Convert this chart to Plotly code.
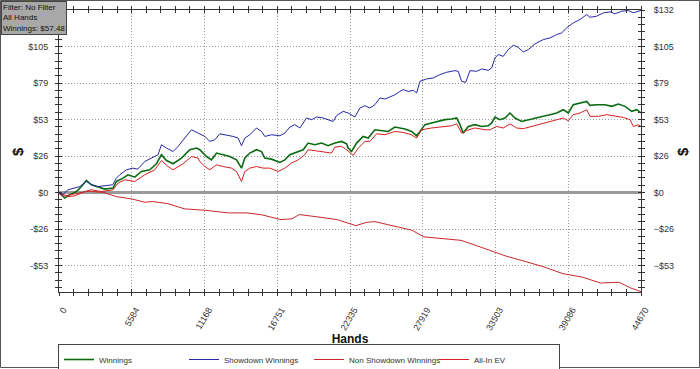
import plotly.graph_objects as go

# ---------------- data ----------------
sd_hands = [0, 300, 691, 1206, 1590, 2104, 2488, 2972, 3510, 4124, 4408, 4662, 5176, 5660, 6044, 6582, 7096, 7603, 7864, 8248,
            8755, 9139, 9654, 10168, 10675, 11190, 11574, 11958, 12342, 12856, 13363, 13747, 14008, 14262, 14646, 15160, 15544,
            15798, 16312, 16950, 17334, 17718, 18102, 18486, 19000, 19384, 19768, 20275, 20659, 21043, 21304, 21811, 22195,
            22710, 23094, 23478, 23862, 24246, 24630, 25014, 25398, 25782, 26166, 26419, 26803, 27187, 27448, 27702, 28216,
            28723, 29238, 29752, 30390, 30643, 30904, 31212, 31542, 32056, 32440, 32947, 33208, 33462, 33716, 34099, 34483,
            34867, 35251, 35635, 36019, 36534, 37171, 37686, 38200, 38584, 38968, 39475, 39990, 40504, 40758, 41272, 41779,
            42294, 42678, 43192, 43699, 44083, 44670]
sd_vals = [0, -1.5, 2, 3.2, 4.3, 8, 5.6, 4.3, 4.8, 5.6, 10.4, 12.8, 16.4, 17.6, 16.9, 22.4, 24.9, 27.3, 34.5, 32.1,
           29.6, 33.3, 39.3, 45.3, 42.9, 40.5, 36.9, 38.1, 42.4, 41.7, 40.5, 39.3, 33.8, 39.3, 41.7, 46.6, 44.1,
           40.5, 41.7, 41, 42.9, 47.3, 49, 46.6, 53.8, 52.6, 54.5, 53.8, 52.6, 51.3, 55.5, 58.6, 57.4,
           54.5, 61, 62.7, 61, 63.4, 68.3, 67.5, 69, 70.6, 73, 74.3, 73, 73.8, 71.9, 80.3, 82,
           82.7, 85.1, 86.8, 88, 87.5, 80.3, 79.5, 88, 87.5, 89.2, 88.2, 89.9, 97.2, 99.6, 98.3, 103.2,
           106.3, 104.8, 101.5, 103.2, 107.3, 110.4, 111.6, 114, 115.3, 118.9, 122.5, 124.9, 128.5, 126.5, 127.3, 129.7,
           130.4, 129, 130.9, 131.4, 129.7, 131.5]

w_hands = [0, 438, 822, 1336, 1720, 2104, 2488, 2995, 3510, 4147, 4408, 4915, 5299, 5814, 6328, 6966, 7480, 7864, 8248,
           8755, 9400, 10038, 10552, 10806, 11320, 11704, 12088, 12595, 13110, 13624, 14008, 14262, 14646, 15160, 15544,
           15798, 16312, 16950, 17334, 17718, 18232, 18739, 19123, 19638, 20152, 20659, 21174, 21688, 22072, 22195, 22456,
           22840, 23347, 23731, 24246, 24760, 25267, 25782, 26166, 26550, 27064, 27448, 27702, 28086, 28600, 29107, 29622,
           30136, 30520, 30774, 31027, 31411, 31926, 32440, 32947, 33208, 33462, 33846, 34230, 34614, 34998, 35512, 36019,
           36534, 37171, 37686, 38200, 38707, 39091, 39475, 39990, 40504, 40758, 41272, 41910, 42424, 42931, 43446, 43960,
           44344, 44670]
w_vals = [0, -4, -1.7, 0.7, 4.3, 8.7, 5.6, 3.9, 2.5, 3.2, 8, 10.4, 12.8, 11.1, 15.2, 16.4, 20.8, 27.3, 23.1,
          20.8, 24.9, 30.9, 32.1, 30.9, 26, 23.6, 28.5, 27.3, 26, 23.6, 17.6, 24.9, 28.5, 30.9, 29.6,
          24.9, 24.1, 21.7, 23.6, 27.3, 28.9, 30.9, 35.7, 34.5, 35.7, 33.8, 35.7, 36.9, 35.2, 32.1, 29.6,
          35.7, 40.5, 39.3, 45.3, 44.8, 44.1, 47.3, 46.6, 45.8, 44.1, 41, 44.1, 49, 50.2, 51.3, 52.6,
          53.1, 53.8, 49, 42.9, 47.7, 49, 47.7, 48.2, 50.2, 54.5, 52.6, 53.8, 57.4, 53.8, 51.3, 52.6,
          53.8, 55, 56.2, 57.4, 59.8, 57.4, 63.4, 64.6, 65.8, 62.9, 63.4, 63.4, 62.2, 63.9, 62.2, 58.6,
          59.8, 57.48]

ns_hands = [0, 100, 284, 2273, 3433, 4431, 5583, 6582, 7196, 8348, 9654, 11228, 12956, 14415, 15567, 17026, 17871,
            18447, 19868, 21327, 22786, 23631, 24246, 25705, 27087, 28009, 29161, 30850, 31465, 32924, 34345, 35766,
            37225, 38684, 40143, 41564, 42985, 43876, 44670]
ns_vals = [0, -1.5, -2.7, 1, 0, -3, -4.6, -7, -6.5, -8, -11.8, -12.8, -14.7, -14.7, -16.1, -19.5, -19,
           -15.9, -17.6, -19.5, -23.9, -21.5, -21, -23.9, -27.2, -32, -32.8, -34.5, -36.4, -41.2, -46, -49.7,
           -53.7, -58.6, -61, -65.3, -64.8, -68.9, -71.5]

ev_hands = [0, 691, 1206, 1974, 2488, 3256, 4147, 4531, 5046, 5814, 6582, 7350, 7864, 8371, 8755, 9523, 10168, 10675,
            10806, 11190, 11574, 12088, 12595, 13240, 13624, 14008, 14262, 14646, 15160, 15667, 16182, 16819, 17334,
            17848, 18355, 18870, 19123, 19638, 20275, 20920, 21174, 21688, 22072, 22326, 22579, 22963, 23478, 23862,
            24376, 25014, 25782, 26419, 27064, 27448, 27832, 28600, 29368, 30136, 30520, 30904, 31288, 31926, 32694,
            33078, 33592, 34099, 34614, 35128, 35635, 36280, 36918, 37555, 38200, 38707, 39091, 39475, 39990, 40504,
            40758, 41395, 42040, 42678, 43315, 43830, 44083, 44467, 44670]
ev_vals = [0, -2.9, -2.4, 0.7, 2, 0.7, 2, 6.8, 9.2, 8, 12.8, 16.4, 23.1, 18.8, 16.4, 20.8, 26, 24.9,
           22.4, 18.8, 16.4, 20, 18.8, 17.6, 15.2, 8, 15.2, 17.6, 18.8, 17.6, 17.6, 15.2, 17.6,
           21.3, 23.6, 27.3, 30.9, 30.2, 29.6, 28.5, 32.8, 33.3, 30.9, 28.5, 26.8, 32.1, 36.9, 36.9,
           42.4, 41.7, 44.1, 43.4, 41.7, 39.3, 45.3, 46.6, 47.3, 48.2, 49.7, 42.9, 44.8, 46.6, 45.3,
           45.3, 47.7, 46.6, 49.5, 46.6, 46.1, 47.7, 49.5, 50.9, 52.6, 53.8, 51.8, 56.2, 57.4, 59.8,
           55, 55, 56.2, 55, 54.2, 52.6, 47.7, 48.9, 47.7]

series_names = ["Winnings", "Showdown Winnings", "Non Showdown Winnings", "All-In EV"]
info_lines = ["Filter: No Filter", "All Hands", "Winnings: $57.48"]
x_title = "Hands"
y_title = "$"
hands_max = 44670
x_step = 5583.75
y_min, y_max = -71.8, 131.76
y_step = 26.35
# left axis labels (the top one is hidden under the filter box in the original)
y_left_vals = [-52.7, -26.35, 0, 26.35, 52.7, 79.05, 105.4]
y_left_text = ["-$53", "-$26", "$0", "$26", "$53", "$79", "$105"]

for a, b in [(sd_hands, sd_vals), (w_hands, w_vals), (ns_hands, ns_vals), (ev_hands, ev_vals)]:
    assert len(a) == len(b), (len(a), len(b))

# ---------------- figure ----------------
FONT = "Liberation Sans, Arial, sans-serif"
TICK = "#333"
GRID_DASH = "1px,2px"
PLOT_W, PLOT_H, ML, MT = 582, 282, 59, 10


def px_x(p):  # page pixel -> paper x
    return (p - ML) / PLOT_W


def px_y(p):  # page pixel -> paper y
    return (MT + PLOT_H - p) / PLOT_H


fig = go.Figure()
fig.add_trace(go.Scatter(x=w_hands, y=w_vals, name=series_names[0], mode="lines",
                         line=dict(color="#0b6b12", width=1.6), xaxis="x", yaxis="y"))
fig.add_trace(go.Scatter(x=sd_hands, y=sd_vals, name=series_names[1], mode="lines",
                         line=dict(color="#2727a8", width=1), xaxis="x2", yaxis="y"))
fig.add_trace(go.Scatter(x=ns_hands, y=ns_vals, name=series_names[2], mode="lines",
                         line=dict(color="#c8282c", width=1), xaxis="x", yaxis="y3"))
fig.add_trace(go.Scatter(x=ev_hands, y=ev_vals, name=series_names[3], mode="lines",
                         line=dict(color="#d42020", width=1), xaxis="x", yaxis="y2"))

tickfont = dict(family=FONT, size=9, color="#333")
common_x = dict(range=[0, hands_max], linecolor=TICK, linewidth=1, zeroline=False, automargin=False,
                ticklen=3, tickcolor=TICK)
common_y = dict(range=[y_min, y_max], linecolor=TICK, linewidth=1, automargin=False,
                ticklen=3, tickcolor=TICK)
minor_x_out = dict(ticks="outside", dtick=x_step / 5, tick0=0, ticklen=3, tickcolor=TICK, showgrid=False)
minor_x_in = dict(ticks="inside", dtick=x_step / 5, tick0=0, ticklen=3, tickcolor=TICK, showgrid=False)
minor_y_out = dict(ticks="outside", dtick=y_step / 5, tick0=0, ticklen=3, tickcolor=TICK, showgrid=False)
minor_y_in = dict(ticks="inside", dtick=y_step / 5, tick0=0, ticklen=3, tickcolor=TICK, showgrid=False)
title_font = dict(family=FONT, size=15, color="#111", weight="bold")

fig.update_layout(
    width=700, height=369,
    margin=dict(l=ML, r=700 - ML - PLOT_W, t=MT, b=369 - MT - PLOT_H, autoexpand=False),
    paper_bgcolor="white", plot_bgcolor="white",
    showlegend=True,
    xaxis=dict(**common_x, tickmode="linear", tick0=0, dtick=x_step, ticks="outside",
               showline=True, mirror="ticks",
               tickformat=".0f", tickangle=-60, tickfont=tickfont, ticklabelstandoff=5, ticklabelshift=4,
               showgrid=True, gridcolor="#999", griddash=GRID_DASH, gridwidth=1,
               minor=minor_x_out,
               title=dict(text=x_title, font=dict(family=FONT, size=12, color="#111", weight="bold"), standoff=0)),
    xaxis2=dict(**common_x, overlaying="x", tickmode="linear", tick0=0, dtick=x_step, ticks="inside",
                showline=False, mirror="ticks", showticklabels=False, showgrid=False, minor=minor_x_in),
    yaxis=dict(**common_y, side="left", tickmode="array", tickvals=y_left_vals, ticktext=y_left_text,
               ticks="outside", showline=True, mirror=True,
               tickfont=tickfont, ticklabelstandoff=5,
               showgrid=True, gridcolor="#999", griddash=GRID_DASH, gridwidth=1,
               zeroline=True, zerolinecolor="#9a9a9a", zerolinewidth=3,
               minor=minor_y_out),
    yaxis2=dict(**common_y, overlaying="y", side="right", tickmode="linear", tick0=0, dtick=y_step,
                ticks="outside", showline=True,
                tickformat="$.0f", tickfont=tickfont, ticklabelstandoff=7, showgrid=False, zeroline=False,
                minor=minor_y_out),
    yaxis3=dict(**common_y, overlaying="y", side="left", tickmode="linear", tick0=0, dtick=y_step,
                ticks="inside", showline=False, mirror="ticks",
                showticklabels=False, showgrid=False, zeroline=False, minor=minor_y_in),
    legend=dict(orientation="h", x=px_x(58), xanchor="left", y=px_y(344), yanchor="top",
                bordercolor="#444", borderwidth=1, bgcolor="white",
                font=dict(family=FONT, size=8, color="#333"),
                entrywidth=80, entrywidthmode="pixels", itemwidth=30, tracegroupgap=0),
    annotations=[
        dict(text="<br>".join(info_lines), xref="paper", yref="paper",
             x=px_x(1), y=px_y(1), xanchor="left", yanchor="top",
             showarrow=False, align="left", bgcolor="#a8a8a8", bordercolor="#444",
             borderwidth=1, borderpad=1, font=dict(family=FONT, size=8, color="#111")),
        dict(text=y_title, xref="paper", yref="paper", x=px_x(17), y=px_y(152),
             xanchor="center", yanchor="middle", textangle=-90, showarrow=False, font=title_font),
        dict(text=y_title, xref="paper", yref="paper", x=px_x(682), y=px_y(152),
             xanchor="center", yanchor="middle", textangle=-90, showarrow=False, font=title_font),
    ],
    shapes=[dict(type="rect", xref="paper", yref="paper",
                 x0=px_x(0.5), x1=px_x(699.5), y0=px_y(367.5), y1=px_y(0.5),
                 line=dict(color="#555", width=1), layer="below")],
)

fig.write_html("out.html", config={"displayModeBar": False},
               post_script="document.body.style.margin='0';document.body.style.padding='0';"
                           "document.body.style.overflow='hidden';")
